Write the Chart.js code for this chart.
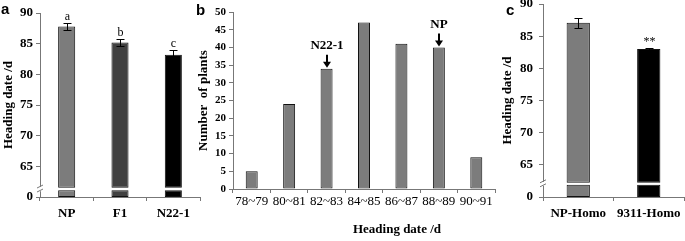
<!DOCTYPE html>
<html>
<head>
<meta charset="utf-8">
<script src="https://cdn.jsdelivr.net/npm/chart.js@4/dist/chart.umd.min.js"></script>
<style>
  body { margin: 0; background: #fff; }
  #wrap { position: relative; width: 685px; height: 241px; overflow: hidden; }
  .panel { position: absolute; top: 0; }
  .tag { position: absolute; font: bold 15px "Liberation Sans", Arial, sans-serif; line-height: 15px; color: #000; }
</style>
</head>
<body>
<div id="wrap">
  <canvas id="chartA" class="panel" style="left:0" width="205" height="241"></canvas>
  <canvas id="chartB" class="panel" style="left:190px" width="310" height="241"></canvas>
  <canvas id="chartC" class="panel" style="left:500px" width="185" height="241"></canvas>
  <div class="tag" style="left:1px;top:1px">a</div>
  <div class="tag" style="left:196px;top:2px">b</div>
  <div class="tag" style="left:506px;top:2px">c</div>
</div>
<script>
// panel a - parents and F1
const groupsA = ['NP', 'F1', 'N22-1'];
const meansA = [87.8, 85.2, 83.2];
const errorsA = [0.6, 0.6, 0.8];
const lettersA = ['a', 'b', 'c'];

// panel b - heading date distribution
const dateBins = ['78~79', '80~81', '82~83', '84~85', '86~87', '88~89', '90~91'];
const plantCounts = [5, 24, 34, 47, 41, 40, 9];
const arrowLabels = ['', '', 'N22-1', '', '', 'NP', ''];

// panel c - homozygous lines
const groupsC = ['NP-Homo', '9311-Homo'];
const meansC = [87.1, 83.0];
const errorsC = [0.8, 0.2];
const signifC = ['', '**'];

// broken y axis: bottom tick stands for 0
const axisBottom = 60;
const axisTop = 90;

const serif = '"Liberation Serif", "Times New Roman", serif';
const axisGrey = '#777';
Chart.defaults.color = '#000';
Chart.defaults.font.family = serif;

// error bars + letters drawn over the top bar segments
const errorBarPlugin = (means, errors, marks) => ({
    id: 'errorBars',
    afterDatasetsDraw(chart) {
        const { ctx } = chart;
        const y = chart.scales.y;
        const bars = chart.getDatasetMeta(1).data;
        ctx.save();
        ctx.strokeStyle = '#000';
        ctx.lineWidth = 1;
        bars.forEach((bar, i) => {
            const x = Math.round(bar.x) + 0.5;
            const hi = Math.round(y.getPixelForValue(means[i] + errors[i])) + 0.5;
            const lo = Math.round(y.getPixelForValue(means[i] - errors[i])) + 0.5;
            ctx.beginPath();
            ctx.moveTo(x, lo); ctx.lineTo(x, hi);
            ctx.moveTo(x - 4, hi); ctx.lineTo(x + 4, hi);
            ctx.moveTo(x - 4, lo); ctx.lineTo(x + 4, lo);
            ctx.stroke();
            if (marks[i]) {
                ctx.font = '12px ' + serif;
                ctx.fillStyle = '#000';
                ctx.textAlign = 'center';
                ctx.textBaseline = 'bottom';
                ctx.fillText(marks[i], x, hi - 1);
            }
        });
        ctx.restore();
    }
});

// the little break sign on the y axis
const axisBreakPlugin = (lo, hi) => ({
    id: 'axisBreak',
    afterDraw(chart) {
        const { ctx, chartArea } = chart;
        const y = chart.scales.y;
        const x = chartArea.left;
        const y0 = y.getPixelForValue(lo);
        const y1 = y.getPixelForValue(hi);
        const ym = (y0 + y1) / 2;
        ctx.save();
        ctx.fillStyle = '#fff';
        ctx.fillRect(x - 2, y1 - 1, 4, y0 - y1 + 2);
        ctx.strokeStyle = axisGrey;
        ctx.lineWidth = 1;
        ctx.beginPath();
        ctx.moveTo(x - 3, ym - 1); ctx.lineTo(x + 3, ym - 4);
        ctx.moveTo(x - 3, ym + 3); ctx.lineTo(x + 3, ym);
        ctx.stroke();
        ctx.restore();
    }
});

function brokenBarChart(id, labels, means, errors, marks, colours, breakLo, breakHi, opts) {
    return new Chart(document.getElementById(id), {
        type: 'bar',
        data: {
            labels: labels,
            datasets: [{
                // stub below the break
                data: labels.map(() => [axisBottom, breakLo]),
                backgroundColor: colours,
                borderColor: '#111',
                borderWidth: 1,
                borderSkipped: false,
                grouped: false
            }, {
                data: means.map(m => [breakHi, m]),
                backgroundColor: colours,
                borderColor: '#111',
                borderWidth: 1,
                borderSkipped: false,
                grouped: false
            }]
        },
        options: {
            responsive: false,
            animation: false,
            layout: { padding: { top: opts.top, right: opts.right, left: 0, bottom: 0 } },
            categoryPercentage: 1,
            barPercentage: opts.barPct,
            plugins: { legend: { display: false }, tooltip: { enabled: false } },
            scales: {
                x: {
                    grid: { drawOnChartArea: false, tickLength: 4, color: axisGrey },
                    border: { color: axisGrey },
                    ticks: { font: { size: 13, weight: 'bold' }, padding: 5, maxRotation: 0, autoSkip: false },
                    afterFit: s => { s.height = 44; s.paddingLeft = 0; s.paddingRight = 0; }
                },
                y: {
                    min: axisBottom,
                    max: axisTop,
                    grid: { drawOnChartArea: false, tickLength: 4, color: axisGrey },
                    border: { color: axisGrey },
                    ticks: {
                        stepSize: 5,
                        padding: opts.tickPad,
                        font: { size: 13, weight: 'bold' },
                        callback: v => v === axisBottom ? '0' : v
                    },
                    title: {
                        display: true,
                        text: 'Heading date /d',
                        font: { size: 13, weight: 'bold' },
                        padding: { top: opts.titlePad, bottom: 0 }
                    },
                    afterFit: s => { s.width = opts.yWidth; s.paddingTop = 0; s.paddingBottom = 0; }
                }
            }
        },
        plugins: [errorBarPlugin(means, errors, marks), axisBreakPlugin(breakLo, breakHi)]
    });
}

brokenBarChart('chartA', groupsA, meansA, errorsA, lettersA,
    ['#7c7c7c', '#404040', '#000000'], 61.1, 61.5,
    { top: 13, right: 5, yWidth: 40, tickPad: 3, titlePad: 1, barPct: 0.32 });

brokenBarChart('chartC', groupsC, meansC, errorsC, signifC,
    ['#7c7c7c', '#000000'], 61.9, 62.2,
    { top: 4, right: 1, yWidth: 43, tickPad: 6, titlePad: 0, barPct: 0.33 });

// arrows pointing at the parents' classes
const arrowPlugin = {
    id: 'arrows',
    afterDatasetsDraw(chart) {
        const { ctx } = chart;
        const bars = chart.getDatasetMeta(0).data;
        ctx.save();
        ctx.fillStyle = '#000';
        ctx.strokeStyle = '#000';
        bars.forEach((bar, i) => {
            if (!arrowLabels[i]) return;
            const x = Math.round(bar.x);
            const tip = bar.y - 1;
            ctx.lineWidth = 2;
            ctx.beginPath();
            ctx.moveTo(x, tip - 13);
            ctx.lineTo(x, tip - 5);
            ctx.stroke();
            ctx.beginPath();
            ctx.moveTo(x - 4, tip - 6);
            ctx.lineTo(x + 4, tip - 6);
            ctx.lineTo(x, tip);
            ctx.closePath();
            ctx.fill();
            ctx.font = 'bold 13px ' + serif;
            ctx.textAlign = 'center';
            ctx.textBaseline = 'bottom';
            ctx.fillText(arrowLabels[i], x, tip - 15);
        });
        ctx.restore();
    }
};

// x title sits right of centre in the original
const xTitlePlugin = {
    id: 'xTitle',
    afterDraw(chart) {
        const { ctx, chartArea } = chart;
        ctx.save();
        ctx.font = 'bold 13px ' + serif;
        ctx.fillStyle = '#000';
        ctx.textAlign = 'center';
        ctx.textBaseline = 'middle';
        ctx.fillText('Heading date /d', (chartArea.left + chartArea.right) / 2 + 33, chartArea.bottom + 41);
        ctx.restore();
    }
};

new Chart(document.getElementById('chartB'), {
    type: 'bar',
    data: {
        labels: dateBins,
        datasets: [{
            data: plantCounts,
            backgroundColor: '#7c7c7c',
            borderColor: '#111',
            borderWidth: 1,
            borderSkipped: false
        }]
    },
    options: {
        responsive: false,
        animation: false,
        layout: { padding: { top: 12, right: 5, left: 0, bottom: 0 } },
        categoryPercentage: 1,
        barPercentage: 0.32,
        plugins: { legend: { display: false }, tooltip: { enabled: false } },
        scales: {
            x: {
                grid: { drawOnChartArea: false, tickLength: 4, color: axisGrey },
                border: { color: axisGrey },
                ticks: { font: { size: 13 }, padding: 1, maxRotation: 0, autoSkip: false },
                afterFit: s => { s.height = 52; s.paddingLeft = 0; s.paddingRight = 0; }
            },
            y: {
                min: 0,
                max: 50,
                grid: { drawOnChartArea: false, tickLength: 4, color: axisGrey },
                border: { color: axisGrey },
                ticks: { stepSize: 5, padding: 3, font: { size: 11, weight: 'bold' } },
                title: {
                    display: true,
                    text: 'Number  of plants',
                    font: { size: 13, weight: 'bold' },
                    padding: { top: 6, bottom: 0 }
                },
                afterFit: s => { s.width = 43; s.paddingTop = 0; s.paddingBottom = 0; }
            }
        }
    },
    plugins: [arrowPlugin, xTitlePlugin]
});
</script>
</body>
</html>
